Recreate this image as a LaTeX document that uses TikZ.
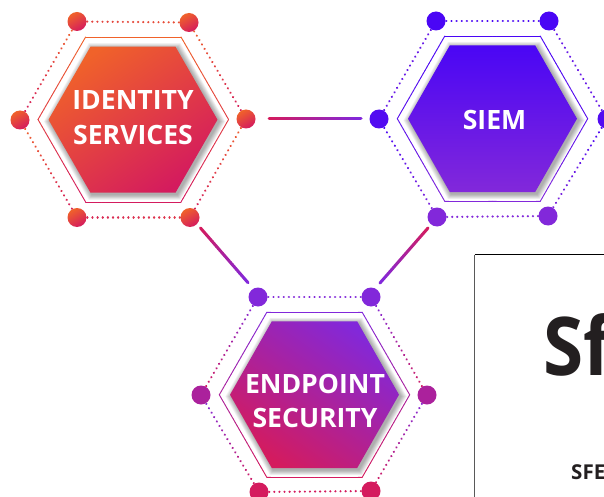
\documentclass[tikz,border=0pt]{standalone}
\usepackage{fontspec}
\setmainfont{Open Sans}
\newfontfamily\narrowf{Open Sans}[FakeStretch=0.9]
\usetikzlibrary{calc}
\definecolor{oA}{HTML}{F0622A}\definecolor{oB}{HTML}{D41B5E}\colorlet{oM}{oA!50!oB}
\definecolor{bA}{HTML}{4A06F5}\definecolor{bB}{HTML}{8228DA}\colorlet{bM}{bA!70!bB}
\definecolor{pA}{HTML}{8228DA}\definecolor{pB}{HTML}{D41B5E}\colorlet{pM}{pA!50!pB}
\definecolor{inkc}{HTML}{231F20}
\tikzset{
  ball/.style={circle,minimum size=19pt,inner sep=0pt,outer sep=0pt},
  linkline/.style={line width=3pt,line cap=round},
  rimline/.style={line width=.9pt,line cap=round},
  dotmark/.style={line width=2.3pt,line cap=round},
  hexlabel/.style={text=white,font=\bfseries\fontsize{26.6}{28}\selectfont,inner sep=0pt},
}
% gradient stroke between named points
\newcommand\gradlink[5]{%
  \foreach \k in {0,...,23}{%
    \pgfmathsetmacro\ta{\k/24}\pgfmathsetmacro\tb{(\k+1)/24}%
    \pgfmathtruncatemacro\pc{100-\k*100/23}%
    \draw[#5,draw=#3!\pc!#4] ($(#1)!\ta!(#2)$) -- ($(#1)!\tb!(#2)$);}}
% dotted edge with gradient, node to node
\newcommand\dotedge[4]{%
  \foreach \k in {1,...,21}{%
    \pgfmathsetmacro\ta{\k/22}\pgfmathsetmacro\tb{\k/22+0.001}%
    \pgfmathtruncatemacro\pc{100-(\k-1)*5}%
    \draw[dotmark,draw=#3!\pc!#4] ($(#1)!\ta!(#2)$) -- ($(#1)!\tb!(#2)$);}}
% cx cy halfwidth halftop halfheight
\newcommand\hexpath[5]{({#1-(#3)},{#2}) -- ({#1-(#4)},{#2-(#5)}) -- ({#1+#4},{#2-(#5)}) -- ({#1+#3},{#2}) -- ({#1+#4},{#2+#5}) -- ({#1-(#4)},{#2+#5}) -- cycle}
\newcommand\hexbody[6]{% cx cy hw tw hh shading options
  \foreach \s in {9,8,...,1}{%
    \fill[black,opacity=.04] \hexpath{#1+1.6}{#2+1.8}{#3+\s*.7}{#4+\s*.38}{#5+\s*.6};}
  \shade[#6] \hexpath{#1}{#2}{#3}{#4}{#5};
}
\newcommand\hexrim[6]{% cx cy hw tw hh prefix
  \coordinate (#6l) at (#1-#3,#2); \coordinate (#6r) at (#1+#3,#2);
  \coordinate (#6a) at (#1-#4,#2-#5); \coordinate (#6b) at (#1+#4,#2-#5);
  \coordinate (#6c) at (#1+#4,#2+#5); \coordinate (#6d) at (#1-#4,#2+#5);
}
\begin{document}
\begin{tikzpicture}[x=1pt,y=-1pt]
\useasboundingbox (0,0) rectangle (604,497);
\clip (0,0) rectangle (604,497);
\fill[white] (0,0) rectangle (604,497);

% panel
\draw[black,line width=.8pt] (620,254.5) -- (474.5,254.5);
\draw[black!65,line width=1pt] (474.5,254.5) -- (474.5,510);
\node[anchor=base west,inner sep=0pt,text=inkc,font=\narrowf\bfseries\fontsize{81}{81}\selectfont] (bigt) at (543,375) {Sf};
\node[anchor=base west,inner sep=0pt,text=inkc,font=\bfseries\fontsize{20.5}{21}\selectfont] (subt) at (571,479) {SFE};

% hexagons
\hexbody{133}{119.7}{84.5}{42.5}{73}{top color=oA,bottom color=oB,shading angle=35}
\hexbody{492.5}{118.7}{84.5}{42.7}{73.3}{top color=bA,bottom color=bB}
\hexbody{314.5}{394.7}{84.5}{42.7}{73.3}{top color=pA,bottom color=pB,shading angle=-35}

\hexrim{133.3}{119.5}{95.3}{47.7}{82.5}{x}
\hexrim{492.5}{118.7}{95.2}{47.7}{82.7}{y}
\hexrim{314.5}{394.8}{95.2}{47.7}{82.5}{z}
\gradlink{xa}{xb}{oA}{oA}{rimline}\gradlink{xa}{xl}{oA}{oM}{rimline}\gradlink{xb}{xr}{oA}{oM}{rimline}
\gradlink{xl}{xd}{oM}{oB}{rimline}\gradlink{xr}{xc}{oM}{oB}{rimline}\gradlink{xd}{xc}{oB}{oB}{rimline}
\gradlink{ya}{yb}{bA}{bA}{rimline}\gradlink{ya}{yl}{bA}{bM}{rimline}\gradlink{yb}{yr}{bA}{bM}{rimline}
\gradlink{yl}{yd}{bM}{bB}{rimline}\gradlink{yr}{yc}{bM}{bB}{rimline}\gradlink{yd}{yc}{bB}{bB}{rimline}
\gradlink{za}{zb}{pA}{pA}{rimline}\gradlink{za}{zl}{pA}{pM}{rimline}\gradlink{zb}{zr}{pA}{pM}{rimline}
\gradlink{zl}{zd}{pM}{pB}{rimline}\gradlink{zr}{zc}{pM}{pB}{rimline}\gradlink{zd}{zc}{pB}{pB}{rimline}

% ring coordinates for dotted edges
\coordinate (a1) at (77,21.5);\coordinate (a2) at (189,22.5);\coordinate (a3) at (246,119);
\coordinate (a4) at (190,217.5);\coordinate (a5) at (77,217.5);\coordinate (a6) at (20,120);
\coordinate (b1) at (436,21);\coordinate (b2) at (549,21);\coordinate (b3) at (607,119);
\coordinate (b4) at (548,216);\coordinate (b5) at (437,217);\coordinate (b6) at (379,119);
\coordinate (c1) at (258,297);\coordinate (c2) at (371,297);\coordinate (c3) at (427,395);
\coordinate (c4) at (371,491);\coordinate (c5) at (259,492);\coordinate (c6) at (201,395);

\dotedge{a1}{a2}{oA!75!oB}{oA!75!oB}\dotedge{a1}{a6}{oA}{oB}\dotedge{a2}{a3}{oA}{oB}
\dotedge{a6}{a5}{oA}{oB}\dotedge{a3}{a4}{oA}{oB}\dotedge{a5}{a4}{oA!40!oB}{oA!40!oB}
\dotedge{b1}{b2}{bA}{bA}\dotedge{b1}{b6}{bA}{bA!50!bB}\dotedge{b2}{b3}{bA}{bA!50!bB}
\dotedge{b6}{b5}{bA}{bB}\dotedge{b3}{b4}{bA}{bB}\dotedge{b5}{b4}{bB}{bB}
\dotedge{c1}{c2}{pA}{pA}\dotedge{c1}{c6}{pA}{pB}\dotedge{c2}{c3}{pA}{pB}
\dotedge{c6}{c5}{pA}{pB}\dotedge{c3}{c4}{pA}{pB}\dotedge{c5}{c4}{pB}{pB}

% ring balls
\foreach \n in {a1,a2,a3,a4,a5,a6}{\node[ball,top color=oA,bottom color=oB,shading angle=30] (n\n) at (\n) {};}
\node[ball,fill=bA] (nb1) at (b1) {};\node[ball,fill=bA] (nb2) at (b2) {};
\node[ball,fill=bA!85!bB] (nb3) at (b3) {};\node[ball,fill=bA!85!bB] (nb6) at (b6) {};
\node[ball,fill=bB] (nb4) at (b4) {};\node[ball,fill=bB] (nb5) at (b5) {};
\node[ball,fill=pA] (nc1) at (c1) {};\node[ball,fill=pA] (nc2) at (c2) {};
\node[ball,fill=pM] (nc3) at (c3) {};\node[ball,fill=pM] (nc6) at (c6) {};
\node[ball,fill=pB] (nc4) at (c4) {};\node[ball,fill=pB] (nc5) at (c5) {};

% connectors
\coordinate (l1s) at ($(na3)!23pt!(nb6)$);\coordinate (l1e) at ($(nb6)!18pt!(na3)$);
\coordinate (l2s) at (200.5,228);\coordinate (l2e) at (248,282.7);
\coordinate (l3s) at (428,228);\coordinate (l3e) at (380,283);
\gradlink{l1s}{l1e}{oB}{pA}{linkline}
\gradlink{l2s}{l2e}{oB}{pA}{linkline}
\gradlink{l3s}{l3e}{oB}{pA}{linkline}

% labels
\node[hexlabel] (t1) at (133,100) {IDENTITY};
\node[hexlabel] (t2) at (133,134.5) {SERVICES};
\node[hexlabel] (t3) at (494.5,119.5) {SIEM};
\node[hexlabel] (t4) at (315,384) {ENDPOINT};
\node[hexlabel] (t5) at (315,417.5) {SECURITY};
\end{tikzpicture}
\end{document}
